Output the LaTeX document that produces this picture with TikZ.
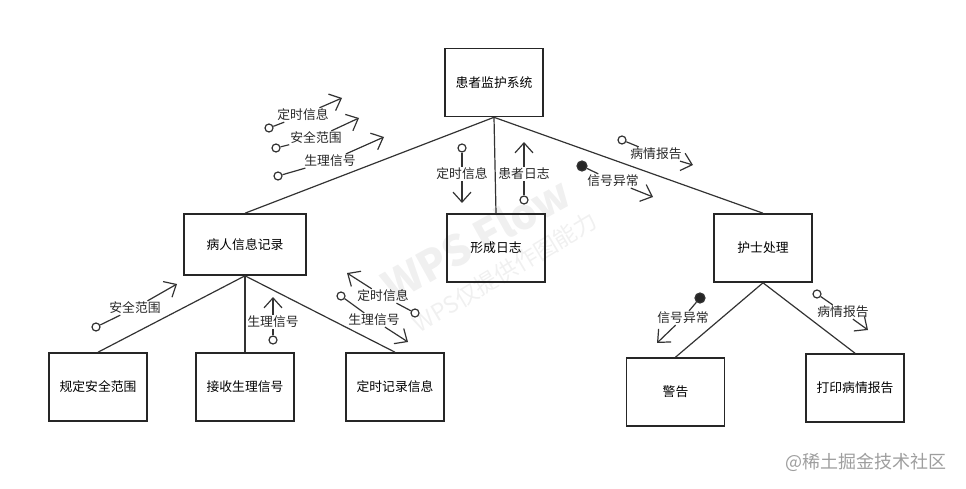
\documentclass[tikz,border=0pt]{standalone}
\usepackage{fontspec}
\setmainfont{Noto Sans CJK SC}
\usetikzlibrary{arrows.meta}

\begin{document}
\begin{tikzpicture}[x=1pt, y=-1pt,
    module/.style={draw=black!85, line width=1.6pt, minimum width=98pt, minimum height=68pt,
        font=\fontsize{12.8}{15}\selectfont},
    link/.style={draw=black!80, line width=1.2pt},
    couple/.style={circle, draw=black!80, fill=white, line width=1.2pt, inner sep=0pt, minimum size=8pt},
    flag/.style={couple, fill=black!85, minimum size=10pt},
    datatext/.style={inner sep=1pt, text=black!85, font=\fontsize{12.8}{15}\selectfont},
    flow/.style={draw=black!80, line width=1.2pt, -{Straight Barb[length=10pt, width=18pt]}}]
    \useasboundingbox (0,0) rectangle (966,489);

    % watermarks
    \node[rotate=29, text=black!6, font=\bfseries\fontsize{42}{46}\selectfont] (wps) at (476,239) {WPS Flow};
    \node[rotate=31, text=black!6, font=\fontsize{23}{26}\selectfont] (wpsnote) at (505,272) {WPS仅提供作图能力};
    \node[anchor=east, text=black!38, font=\fontsize{18}{20}\selectfont] (credit) at (950,462) {@稀土掘金技术社区};

    % modules
    \node[module] (sys) at (494,82.5) {患者监护系统};
    \node[module, minimum width=122pt, minimum height=61pt] (rec) at (245,244.5) {病人信息记录};
    \node[module] (log) at (496,248) {形成日志};
    \node[module] (nurse) at (763,248) {护士处理};
    \node[module] (range) at (98,387) {规定安全范围};
    \node[module] (sig) at (245,387) {接收生理信号};
    \node[module] (timer) at (395,387) {定时记录信息};
    \node[module] (warn) at (675.5,392) {警告};
    \node[module] (print) at (855,388) {打印病情报告};

    \draw[link] (sys.south) -- (rec.north);
    \draw[link] (sys.south) -- (log.north);
    \draw[link] (sys.south) -- (nurse.north);
    \draw[link] (rec.south) -- (range.north);
    \draw[link] (rec.south) -- (sig.north);
    \draw[link] (rec.south) -- (timer.north);
    \draw[link] (nurse.south) -- (warn.north);
    \draw[link] (nurse.south) -- (print.north);

    % data couples: tail, label, head
    \foreach \n/\c/\t/\h/\lbl/\kind in {
        1/{269,128}/{303,115}/{342,98}/定时信息/couple,
        2/{276,148}/{316,138}/{359,118}/安全范围/couple,
        3/{278,176}/{330,161}/{384,137}/生理信号/couple,
        4/{462,148}/{462,174}/{462,203}/定时信息/couple,
        5/{524,200}/{524,174}/{524,142}/患者日志/couple,
        6/{622,140}/{656,154}/{693,165}/病情报告/couple,
        7/{582,166}/{613,181}/{653,197}/信号异常/flag,
        8/{96,327}/{135,308}/{177,284}/安全范围/couple,
        9/{273,340}/{273,322}/{273,297}/生理信号/couple,
        10/{341,296}/{374,320}/{408,342}/生理信号/couple,
        11/{415,313}/{383,296}/{347,273}/定时信息/couple,
        12/{700,298}/{683,318}/{657,343}/信号异常/flag,
        13/{817,294}/{843,312}/{868,330}/病情报告/couple}
    {
        \node[\kind] (c\n) at (\c) {};
        \node[datatext] (t\n) at (\t) {\lbl};
        \coordinate (h\n) at (\h);
        \draw[link] (c\n) -- (t\n);
        \draw[flow] (t\n) -- (h\n);
    }
\end{tikzpicture}
\end{document}
